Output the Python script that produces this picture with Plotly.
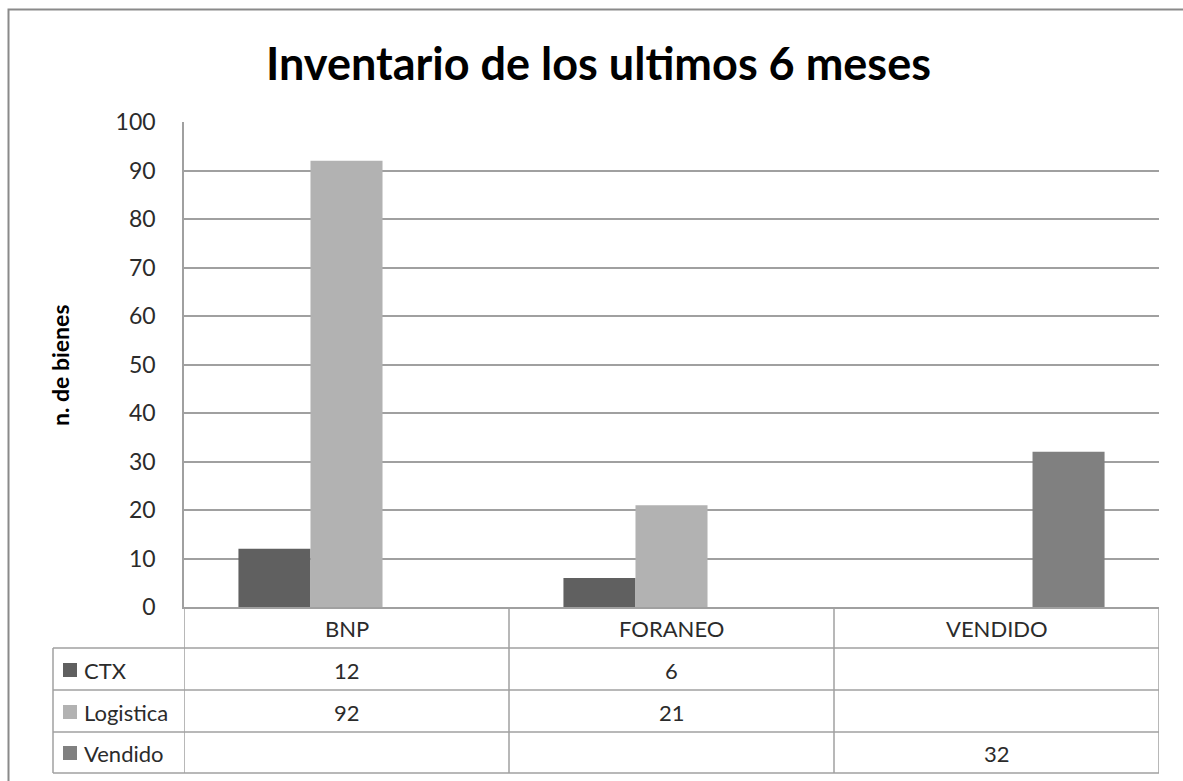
import plotly.graph_objects as go

categories = ["BNP", "FORANEO", "VENDIDO"]
series_names = ["CTX", "Logistica", "Vendido"]
ctx_values = [12, 6, None]
logistica_values = [92, 21, None]
vendido_values = [None, None, 32]
y_ticks = [0, 10, 20, 30, 40, 50, 60, 70, 80, 90, 100]

colors = ["#606060", "#b2b2b2", "#808080"]
FONT = "Lato, 'Open Sans', sans-serif"
TXT = "#2b2b2b"
LINE = "#a0a0a0"

W, H = 1183, 781
L, R, T, B = 184, 1159, 122, 607


def px_x(x):
    return (x - L) / (R - L)


def px_y(y):
    return (B - y) / (B - T)


fig = go.Figure()
all_vals = [ctx_values, logistica_values, vendido_values]
for name, vals, col in zip(series_names, all_vals, colors):
    fig.add_trace(go.Bar(x=categories, y=vals, name=name,
                         marker=dict(color=col, line=dict(width=0)),
                         showlegend=False))

shapes = []
# outer border
shapes.append(dict(type="rect", xref="paper", yref="paper",
                   x0=px_x(8.5), x1=px_x(1200), y0=px_y(9.5), y1=px_y(800),
                   line=dict(color="#8a8a8a", width=2), layer="below"))
# table rows
row_lines = [648, 690, 732, 773]
for y in row_lines:
    shapes.append(dict(type="line", xref="paper", yref="paper",
                       x0=px_x(53), x1=1, y0=px_y(y), y1=px_y(y),
                       line=dict(color=LINE, width=1.5)))
# table verticals
shapes.append(dict(type="line", xref="paper", yref="paper",
                   x0=px_x(53), x1=px_x(53), y0=px_y(648), y1=px_y(773),
                   line=dict(color=LINE, width=1.5)))
for xb in [-0.5, 0.5, 1.5, 2.5]:
    shapes.append(dict(type="line", xref="x", yref="paper",
                       x0=xb, x1=xb, y0=0, y1=px_y(773),
                       line=dict(color=LINE, width=1.5)))
# legend keys in table
row_centers = [669, 711, 752]
for yc, col in zip(row_centers, colors):
    shapes.append(dict(type="rect", xref="paper", yref="paper",
                       x0=px_x(63), x1=px_x(77), y0=px_y(yc - 6), y1=px_y(yc + 8),
                       fillcolor=col, line=dict(width=0)))

annotations = []
TABLE_SIZE = 22
# header row
for c in categories:
    annotations.append(dict(x=c, xref="x", y=px_y(628), yref="paper",
                            text=c, showarrow=False, xanchor="center", yanchor="middle",
                            font=dict(family=FONT, size=TABLE_SIZE, color=TXT)))
for name, vals, yc in zip(series_names, all_vals, row_centers):
    annotations.append(dict(x=px_x(82), xref="paper", y=px_y(yc + 1), yref="paper",
                            text=name, showarrow=False, xanchor="left", yanchor="middle",
                            font=dict(family=FONT, size=TABLE_SIZE, color=TXT)))
    for c, v in zip(categories, vals):
        if v is not None:
            annotations.append(dict(x=c, xref="x", y=px_y(yc + 1), yref="paper",
                                    text=str(v), showarrow=False,
                                    xanchor="center", yanchor="middle",
                                    font=dict(family=FONT, size=TABLE_SIZE, color=TXT)))
# y axis title
annotations.append(dict(x=px_x(60), xref="paper", y=px_y(365), yref="paper",
                        text="<b>n. de bienes</b>", showarrow=False, textangle=-90,
                        xanchor="center", yanchor="middle",
                        font=dict(family=FONT, size=23, color="#000")))
# title
annotations.append(dict(x=px_x(598), xref="paper", y=px_y(63), yref="paper",
                        text="<b>Inventario de los ultimos 6 meses</b>", showarrow=False,
                        xanchor="center", yanchor="middle",
                        font=dict(family=FONT, size=45, color="#000")))

fig.update_layout(
    width=W, height=H,
    margin=dict(l=L, r=W - R, t=T, b=H - B),
    paper_bgcolor="white", plot_bgcolor="white",
    barmode="group", bargap=0.335, bargroupgap=0,
    shapes=shapes, annotations=annotations,
    xaxis=dict(showticklabels=False, showgrid=False, zeroline=False,
               showline=True, linecolor=LINE, linewidth=1.5, range=[-0.5, 2.5]),
    yaxis=dict(range=[0, 100], tickvals=y_ticks, showgrid=True, gridcolor=LINE,
               gridwidth=1.5, zeroline=False, showline=True, linecolor=LINE,
               linewidth=1.5, ticks="", ticklabelstandoff=22,
               tickfont=dict(family=FONT, size=23, color=TXT)),
)

fig.write_html("out.html")
